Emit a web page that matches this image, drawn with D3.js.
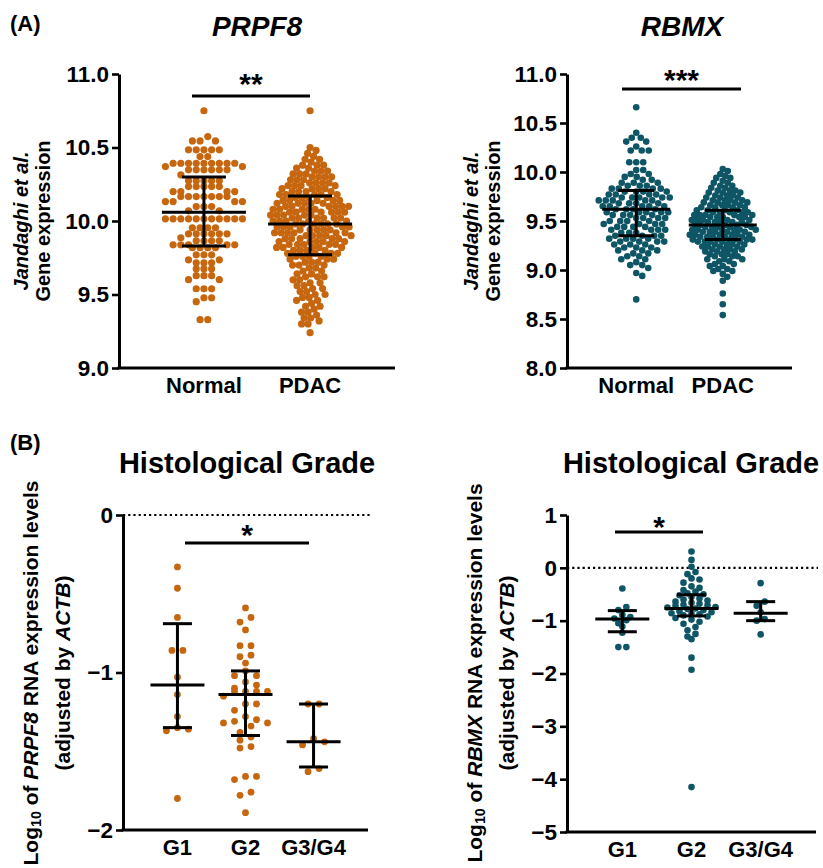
<!DOCTYPE html>
<html>
<head>
<meta charset="utf-8">
<script src="https://cdn.jsdelivr.net/npm/d3@7"></script>
<style>
  body { margin: 0; background: #fff; }
  svg { display: block; font-family: "Liberation Sans", Arial, sans-serif; font-weight: bold; }
</style>
</head>
<body>
<div id="chart"></div>
<script>
const normalPdac = ['Normal', 'PDAC'];
const grades = ['G1', 'G2', 'G3/G4'];

// swarm rows: [expression, number of dots]
const prpf8NormalRows = [[10.75, 1], [10.574, 1], [10.545, 3], [10.484, 5], [10.438, 2], [10.393, 9], [10.37, 2],
  [10.348, 6], [10.314, 1], [10.273, 5], [10.234, 5], [10.20, 4], [10.166, 7], [10.132, 4], [10.098, 3], [10.069, 2],
  [10.015, 11], [9.954, 4], [9.913, 6], [9.886, 1], [9.865, 4], [9.838, 5], [9.818, 4], [9.77, 3], [9.736, 2],
  [9.716, 3], [9.675, 3], [9.628, 3], [9.601, 2], [9.539, 3], [9.478, 2], [9.451, 1], [9.329, 2]];
const prpf8PdacRows = [[10.75, 1], [10.50, 1], [10.48, 1], [10.46, 1], [10.44, 1], [10.42, 2], [10.40, 1], [10.38, 3],
  [10.36, 2], [10.34, 3], [10.32, 3], [10.30, 4], [10.28, 3], [10.26, 4], [10.24, 4], [10.22, 4], [10.20, 4],
  [10.18, 5], [10.16, 4], [10.14, 5], [10.12, 5], [10.10, 6], [10.08, 5], [10.06, 6], [10.04, 5], [10.02, 6],
  [10.00, 5], [9.98, 6], [9.96, 5], [9.94, 5], [9.92, 6], [9.90, 5], [9.88, 5], [9.86, 5], [9.84, 5], [9.82, 5],
  [9.80, 4], [9.78, 4], [9.76, 4], [9.74, 3], [9.72, 3], [9.70, 3], [9.68, 2], [9.66, 2], [9.64, 2], [9.62, 3],
  [9.60, 2], [9.58, 2], [9.56, 2], [9.54, 2], [9.52, 2], [9.50, 2], [9.48, 2], [9.46, 2], [9.44, 1], [9.42, 2],
  [9.40, 1], [9.38, 2], [9.36, 1], [9.34, 2], [9.32, 1], [9.30, 2], [9.24, 1]];
const prpf8Mean = [10.06, 9.98];
const prpf8SdLow = [9.83, 9.77];
const prpf8SdHigh = [10.30, 10.17];
const prpf8Ticks = [9.0, 9.5, 10.0, 10.5, 11.0];

const rbmxNormalRows = [[10.66, 1], [10.40, 1], [10.35, 2], [10.31, 2], [10.26, 1], [10.22, 3], [10.10, 3], [10.02, 2],
  [9.98, 2], [9.95, 2], [9.92, 2], [9.89, 3], [9.86, 3], [9.83, 4], [9.80, 4], [9.77, 4], [9.74, 5], [9.71, 5],
  [9.68, 4], [9.65, 5], [9.62, 4], [9.59, 5], [9.56, 4], [9.53, 4], [9.50, 4], [9.47, 4], [9.44, 4], [9.41, 4],
  [9.38, 3], [9.35, 4], [9.32, 4], [9.29, 4], [9.26, 3], [9.23, 3], [9.20, 3], [9.17, 2], [9.14, 2], [9.11, 2],
  [9.08, 1], [9.05, 2], [9.02, 1], [8.97, 1], [8.94, 1], [8.70, 1]];
const rbmxPdacRows = [[10.03, 1], [10.01, 1], [9.98, 1], [9.96, 1], [9.94, 2], [9.91, 1], [9.89, 2], [9.86, 2],
  [9.84, 2], [9.81, 3], [9.79, 3], [9.76, 3], [9.74, 3], [9.71, 4], [9.69, 4], [9.66, 4], [9.64, 4], [9.61, 4],
  [9.59, 5], [9.56, 5], [9.54, 5], [9.51, 5], [9.49, 5], [9.46, 5], [9.44, 5], [9.41, 6], [9.39, 5], [9.36, 6],
  [9.34, 5], [9.31, 6], [9.29, 5], [9.26, 4], [9.24, 4], [9.21, 4], [9.19, 3], [9.16, 3], [9.14, 3], [9.11, 3],
  [9.09, 2], [9.06, 2], [9.04, 2], [9.01, 2], [8.99, 2], [8.96, 1], [8.93, 1], [8.89, 1], [8.76, 1], [8.65, 1],
  [8.54, 1]];
const rbmxMean = [9.62, 9.46];
const rbmxSdLow = [9.35, 9.31];
const rbmxSdHigh = [9.81, 9.61];
const rbmxTicks = [8.0, 8.5, 9.0, 9.5, 10.0, 10.5, 11.0];

// histological grade, log10 expression adjusted by ACTB
const prpf8G1 = [-0.33, -0.465, -0.65, -0.86, -0.86, -1.03, -1.14, -1.28, -1.35, -1.37, -1.36, -1.80];
const prpf8G2 = [-0.59, -0.65, -0.68, -0.73, -0.83, -0.83, -0.89, -0.90, -0.94, -0.99, -1.02, -1.02, -1.06, -1.08,
  -1.10, -1.12, -1.12, -1.12, -1.12, -1.15, -1.20, -1.20, -1.24, -1.28, -1.30, -1.31, -1.32, -1.32, -1.34, -1.38,
  -1.41, -1.43, -1.47, -1.48, -1.66, -1.66, -1.68, -1.76, -1.78, -1.89];
const prpf8G34 = [-1.20, -1.20, -1.42, -1.44, -1.46, -1.61, -1.63];
const prpf8GradeMean = [-1.08, -1.14, -1.44];
const prpf8GradeLow = [-1.35, -1.40, -1.60];
const prpf8GradeHigh = [-0.69, -0.99, -1.20];
const prpf8GradeTicks = [0, -1, -2];

const rbmxG1 = [-0.39, -0.74, -0.80, -0.89, -0.93, -0.96, -0.99, -1.05, -1.11, -1.23, -1.50, -1.50];
const rbmxG2 = [0.31, 0.15, 0.02, -0.08, -0.12, -0.20, -0.22, -0.28, -0.35, -0.38, -0.42, -0.45, -0.48, -0.50, -0.52,
  -0.55, -0.58, -0.60, -0.62, -0.64, -0.66, -0.68, -0.70, -0.71, -0.72, -0.74, -0.75, -0.77, -0.78, -0.80, -0.82,
  -0.84, -0.86, -0.87, -0.88, -0.90, -0.92, -0.95, -0.98, -1.02, -1.06, -1.12, -1.18, -1.25, -1.30, -1.35, -1.70,
  -1.93, -4.15];
const rbmxG34 = [-0.29, -0.64, -0.72, -0.84, -0.97, -1.00, -1.26];
const rbmxGradeMean = [-0.97, -0.77, -0.86];
const rbmxGradeLow = [-1.21, -0.91, -1.00];
const rbmxGradeHigh = [-0.81, -0.51, -0.64];
const rbmxGradeTicks = [1, 0, -1, -2, -3, -4, -5];

const orange = '#c6660f';
const teal = '#0e5565';

const expand = rows => rows.flatMap(([v, n]) => Array(n).fill(v));

const svg = d3.select('#chart')
  .append('svg')
  .attr('width', 823)
  .attr('height', 868);

// column scatter: dots within one band of height h share a row, centred on the column
function bandLayout(vals, y, cx, s, h) {
  const ys = vals.map(v => y(v)).sort((a, b) => a - b);
  const out = [];
  let i = 0;
  while (i < ys.length) {
    let j = i;
    while (j < ys.length && ys[j] - ys[i] < h) j++;
    const n = j - i;
    const slots = d3.range(n)
      .map(k => (k - (n - 1) / 2) * s)
      .sort((a, b) => Math.abs(a) - Math.abs(b) || b - a);
    for (let k = 0; k < n; k++) out.push([cx + slots[k], ys[i + k]]);
    i = j;
  }
  return out;
}

// beeswarm: each dot goes as near the centre line as it can without coming closer than gap
function dodgeLayout(vals, y, cx, gap) {
  const placed = [];
  return vals.map(v => {
    const py = y(v);
    const near = placed.filter(p => Math.abs(p[1] - py) < gap);
    let px = cx;
    for (let k = 0; k < 1000; k++) {
      const tx = cx + (k === 0 ? 0 : (k % 2 ? 1 : -1) * Math.ceil(k / 2) * 0.5);
      if (near.every(p => (p[0] - tx) ** 2 + (p[1] - py) ** 2 >= gap * gap)) { px = tx; break; }
    }
    placed.push([px, py]);
    return [px, py];
  });
}

function drawPanel(c) {
  const g = svg.append('g');
  const y = d3.scaleLinear().domain(d3.extent(c.ticks)).range([c.bottom, c.top]);
  const x = d3.scalePoint().domain(c.categories).range([c.left, c.right]).padding(0.8);

  if (c.zeroLine) {
    g.append('line')
      .attr('x1', c.left).attr('x2', c.right + 2)
      .attr('y1', y(0)).attr('y2', y(0))
      .attr('stroke', '#000').attr('stroke-width', 2.2)
      .attr('stroke-dasharray', '2.2,3');
  }

  const yAxis = g.append('g')
    .attr('transform', `translate(${c.left},0)`)
    .call(d3.axisLeft(y).tickValues(c.ticks).tickFormat(c.fmt).tickSize(7).tickSizeOuter(0).tickPadding(3));
  yAxis.select('.domain').attr('stroke-width', 3);
  yAxis.selectAll('.tick line').attr('stroke-width', 2.6);
  yAxis.selectAll('.tick text')
    .attr('font-size', 22.5).attr('font-weight', 'bold').attr('fill', '#000')
    .attr('font-family', '"Liberation Sans", Arial, sans-serif');

  g.append('line')
    .attr('x1', c.left - 1.5).attr('x2', c.right)
    .attr('y1', c.bottom).attr('y2', c.bottom)
    .attr('stroke', '#000').attr('stroke-width', 3);

  g.selectAll('.xlab')
    .data(c.categories)
    .enter()
    .append('text')
    .attr('x', d => x(d))
    .attr('y', c.bottom + 25)
    .attr('text-anchor', 'middle')
    .attr('font-size', 22)
    .text(d => d);

  // dots
  c.groups.forEach((grp, i) => {
    const cx = x(c.categories[i]);
    const pts = grp.gap
      ? dodgeLayout(grp.vals, y, cx, grp.gap)
      : bandLayout(grp.vals, y, cx, grp.spacing, grp.band);
    g.append('g')
      .selectAll('circle')
      .data(pts)
      .enter()
      .append('circle')
      .attr('cx', d => d[0])
      .attr('cy', d => d[1])
      .attr('r', c.r)
      .attr('fill', c.color);
  });

  // mean with SD
  c.categories.forEach((cat, i) => {
    const cx = x(cat);
    const bars = [
      [cx - c.meanHalf, cx + c.meanHalf, y(c.mean[i]), y(c.mean[i])],
      [cx - c.capHalf, cx + c.capHalf, y(c.hi[i]), y(c.hi[i])],
      [cx - c.capHalf, cx + c.capHalf, y(c.lo[i]), y(c.lo[i])],
      [cx, cx, y(c.lo[i]), y(c.hi[i])]
    ];
    bars.forEach(b => {
      g.append('line')
        .attr('x1', b[0]).attr('x2', b[1]).attr('y1', b[2]).attr('y2', b[3])
        .attr('stroke', '#000').attr('stroke-width', 3);
    });
  });

  // significance bar
  g.append('line')
    .attr('x1', c.sig.x1).attr('x2', c.sig.x2)
    .attr('y1', c.sig.y).attr('y2', c.sig.y)
    .attr('stroke', '#000').attr('stroke-width', 3);
  g.append('text')
    .attr('x', (c.sig.x1 + c.sig.x2) / 2)
    .attr('y', c.sig.ty)
    .attr('text-anchor', 'middle')
    .attr('font-size', 30)
    .text(c.sig.text);

  return g;
}

function rotatedLabel(cx, cy, lines) {
  const g = svg.append('g').attr('transform', `translate(${cx},${cy}) rotate(-90)`);
  lines.forEach(l => {
    const t = g.append('text')
      .attr('y', l.dy)
      .attr('text-anchor', 'middle')
      .attr('font-size', l.size);
    l.parts.forEach(p => {
      const s = t.append('tspan').text(p.t);
      if (p.i) s.attr('font-style', 'italic');
      if (p.sub) s.attr('font-size', l.size * 0.68).attr('baseline-shift', '-22%');
    });
  });
}

// (A) Jandaghi et al.
drawPanel({
  groups: [
    { vals: expand(prpf8NormalRows), spacing: 7.7, band: 5 },
    { vals: expand(prpf8PdacRows), gap: 6.3 }
  ],
  categories: normalPdac,
  mean: prpf8Mean, lo: prpf8SdLow, hi: prpf8SdHigh,
  ticks: prpf8Ticks, fmt: d3.format('.1f'),
  left: 119, right: 395, top: 74, bottom: 368,
  color: orange, r: 3.6,
  meanHalf: 42, capHalf: 22,
  sig: { x1: 192, x2: 310, y: 96, text: '**', ty: 94 }
});

drawPanel({
  groups: [
    { vals: expand(rbmxNormalRows), gap: 6.6 },
    { vals: expand(rbmxPdacRows), gap: 5.3 }
  ],
  categories: normalPdac,
  mean: rbmxMean, lo: rbmxSdLow, hi: rbmxSdHigh,
  ticks: rbmxTicks, fmt: d3.format('.1f'),
  left: 567, right: 792, top: 74, bottom: 368,
  color: teal, r: 3.3,
  meanHalf: 34, capHalf: 18,
  sig: { x1: 622, x2: 741, y: 89, text: '***', ty: 90 }
});

// (B) histological grade
drawPanel({
  groups: [prpf8G1, prpf8G2, prpf8G34].map(vals => ({ vals, spacing: 11, band: 7 })),
  categories: grades,
  mean: prpf8GradeMean, lo: prpf8GradeLow, hi: prpf8GradeHigh,
  ticks: prpf8GradeTicks, fmt: d3.format('d'),
  left: 123, right: 368, top: 515, bottom: 830,
  color: orange, r: 3.4, zeroLine: true,
  meanHalf: 27, capHalf: 14.5,
  sig: { x1: 185, x2: 309, y: 543, text: '*', ty: 545 }
});

drawPanel({
  groups: [rbmxG1, rbmxG2, rbmxG34].map(vals => ({ vals, spacing: 8, band: 5 })),
  categories: grades,
  mean: rbmxGradeMean, lo: rbmxGradeLow, hi: rbmxGradeHigh,
  ticks: rbmxGradeTicks, fmt: d3.format('d'),
  left: 567, right: 816, top: 515, bottom: 832,
  color: teal, r: 3.3, zeroLine: true,
  meanHalf: 27, capHalf: 14.5,
  sig: { x1: 615, x2: 703, y: 532, text: '*', ty: 537 }
});

// panel letters and titles
[['(A)', 10, 31], ['(B)', 10, 450]].forEach(d => {
  svg.append('text').attr('x', d[1]).attr('y', d[2]).attr('font-size', 22).text(d[0]);
});
[['PRPF8', 257, 36], ['RBMX', 682, 36]].forEach(d => {
  svg.append('text').attr('x', d[1]).attr('y', d[2]).attr('text-anchor', 'middle')
    .attr('font-size', 28).attr('font-style', 'italic').text(d[0]);
});
[247, 691].forEach(cx => {
  svg.append('text').attr('x', cx).attr('y', 473).attr('text-anchor', 'middle')
    .attr('font-size', 29).text('Histological Grade');
});

// axis titles
const jandaghi = [
  { dy: 0, size: 20, parts: [{ t: 'Jandaghi et al.', i: true }] },
  { dy: 22, size: 20, parts: [{ t: 'Gene expression' }] }
];
rotatedLabel(28, 221, jandaghi);
rotatedLabel(478, 221, jandaghi);

const gradeLabel = gene => [
  { dy: 0, size: 21, parts: [{ t: 'Log' }, { t: '10', sub: true }, { t: ' of ' }, { t: gene, i: true }, { t: ' RNA expression levels' }] },
  { dy: 32, size: 21, parts: [{ t: '(adjusted by ' }, { t: 'ACTB', i: true }, { t: ')' }] }
];
rotatedLabel(38, 673, gradeLabel('PRPF8'));
rotatedLabel(482, 673, gradeLabel('RBMX'));
</script>
</body>
</html>
